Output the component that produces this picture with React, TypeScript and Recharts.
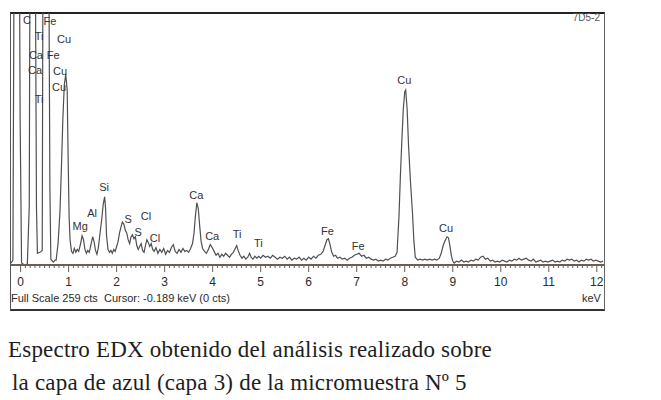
import React from "react";
import { LineChart, Line, XAxis, YAxis, ReferenceDot } from "recharts";

// spectrum: [keV, counts]; values above 259 run off the top of the frame
const spectrum: Array<[number, number]> = [
  [-0.2, 2], [-0.16, 5], [-0.13, 400], [-0.03, 400], [-0.01, 150], [0.02, 2], [0.08, 0], [0.14, 1],
  [0.18, 60], [0.2, 400], [0.3, 400], [0.33, 60], [0.35, 12], [0.4, 13], [0.45, 15], [0.47, 400],
  [0.58, 400], [0.61, 80], [0.63, 6], [0.68, 3], [0.72, 5], [0.74, 5], [0.78, 22], [0.82, 55],
  [0.85, 100], [0.88, 150], [0.91, 185], [0.94, 196], [0.97, 180], [0.99, 110], [1.01, 50], [1.03, 26],
  [1.06, 14], [1.09, 12], [1.12, 17], [1.15, 13], [1.18, 16], [1.21, 14], [1.25, 22], [1.28, 30],
  [1.31, 26], [1.34, 16], [1.37, 12], [1.4, 15], [1.43, 13], [1.47, 22], [1.5, 29], [1.53, 24],
  [1.56, 15], [1.59, 11], [1.62, 18], [1.66, 35], [1.69, 47], [1.72, 62], [1.75, 70], [1.77, 58],
  [1.79, 30], [1.82, 16], [1.85, 13], [1.88, 15], [1.91, 12], [1.94, 16], [1.97, 14], [2.0, 19],
  [2.03, 24], [2.06, 33], [2.09, 39], [2.12, 44], [2.15, 42], [2.18, 36], [2.21, 33], [2.24, 26],
  [2.27, 22], [2.3, 29], [2.33, 31], [2.36, 27], [2.39, 29], [2.42, 20], [2.45, 16], [2.48, 19],
  [2.51, 22], [2.54, 15], [2.57, 13], [2.6, 20], [2.63, 26], [2.66, 23], [2.69, 19], [2.72, 22],
  [2.75, 16], [2.78, 14], [2.82, 18], [2.86, 12], [2.9, 16], [2.94, 13], [2.98, 17], [3.02, 11],
  [3.06, 15], [3.1, 13], [3.14, 18], [3.18, 21], [3.22, 14], [3.26, 12], [3.3, 16], [3.34, 13],
  [3.38, 17], [3.42, 14], [3.46, 15], [3.5, 13], [3.54, 17], [3.58, 22], [3.61, 32], [3.64, 50],
  [3.67, 64], [3.7, 58], [3.73, 40], [3.76, 24], [3.79, 17], [3.83, 14], [3.87, 12], [3.91, 16],
  [3.95, 21], [3.99, 18], [4.03, 14], [4.07, 10], [4.11, 12], [4.15, 8], [4.19, 11], [4.23, 9],
  [4.27, 12], [4.31, 10], [4.35, 8], [4.39, 11], [4.43, 13], [4.47, 17], [4.5, 20], [4.53, 15],
  [4.57, 10], [4.61, 7], [4.65, 9], [4.69, 6], [4.73, 8], [4.77, 12], [4.8, 8], [4.84, 6],
  [4.88, 9], [4.92, 7], [4.96, 9], [5.0, 7], [5.05, 10], [5.1, 8], [5.15, 9], [5.2, 7],
  [5.25, 10], [5.3, 8], [5.35, 6], [5.4, 8], [5.45, 7], [5.5, 9], [5.55, 6], [5.6, 8],
  [5.65, 5], [5.7, 7], [5.75, 6], [5.8, 8], [5.85, 5], [5.9, 7], [5.95, 5], [6.0, 8],
  [6.05, 6], [6.1, 9], [6.15, 7], [6.2, 10], [6.25, 11], [6.3, 14], [6.34, 20], [6.38, 26],
  [6.41, 27], [6.44, 22], [6.48, 13], [6.52, 9], [6.56, 10], [6.6, 7], [6.65, 8], [6.7, 6],
  [6.75, 7], [6.8, 5], [6.85, 7], [6.9, 8], [6.95, 10], [7.0, 11], [7.05, 12], [7.1, 9],
  [7.15, 10], [7.2, 7], [7.25, 8], [7.3, 6], [7.35, 5], [7.4, 6], [7.45, 4], [7.5, 5],
  [7.55, 4], [7.6, 6], [7.65, 5], [7.7, 7], [7.75, 8], [7.8, 9], [7.84, 13], [7.88, 50],
  [7.91, 92], [7.94, 128], [7.97, 160], [8.0, 178], [8.02, 180], [8.05, 160], [8.08, 122], [8.12, 85],
  [8.16, 55], [8.19, 25], [8.22, 8], [8.27, 5], [8.32, 6], [8.37, 5], [8.42, 6], [8.47, 5],
  [8.52, 6], [8.57, 5], [8.62, 6], [8.67, 5], [8.72, 7], [8.76, 12], [8.8, 20], [8.84, 25],
  [8.88, 29], [8.91, 28], [8.94, 20], [8.97, 10], [9.0, 4], [9.03, 2], [9.08, 4], [9.13, 3],
  [9.18, 5], [9.23, 3], [9.28, 4], [9.33, 3], [9.38, 5], [9.43, 4], [9.48, 6], [9.53, 5],
  [9.58, 8], [9.63, 9], [9.68, 6], [9.73, 7], [9.78, 4], [9.83, 5], [9.88, 3], [9.93, 4],
  [9.98, 3], [10.03, 5], [10.08, 4], [10.13, 3], [10.18, 5], [10.23, 4], [10.28, 6], [10.33, 5],
  [10.38, 7], [10.43, 5], [10.48, 6], [10.53, 7], [10.58, 5], [10.63, 4], [10.68, 6], [10.73, 3],
  [10.78, 4], [10.83, 5], [10.88, 3], [10.93, 4], [10.98, 3], [11.03, 4], [11.08, 5], [11.13, 3],
  [11.18, 4], [11.23, 3], [11.28, 5], [11.33, 4], [11.38, 6], [11.43, 5], [11.48, 6], [11.53, 4],
  [11.58, 5], [11.63, 3], [11.68, 5], [11.73, 4], [11.78, 6], [11.83, 5], [11.88, 6], [11.93, 4],
  [11.98, 5], [12.03, 4], [12.08, 3], [12.13, 4],
];

// element labels and where they sit (keV, counts)
const peakNames = ["C", "Fe", "Ti", "Cu", "Ca", "Fe", "Ca", "Cu", "Cu", "Ti", "Mg", "Al", "Si", "S", "Cl", "S", "Cl", "Ca", "Ca", "Ti", "Ti", "Fe", "Fe", "Cu", "Cu"];
const peakKeV = [0.135, 0.61, 0.385, 0.905, 0.32, 0.68, 0.3, 0.82, 0.8, 0.385, 1.24, 1.49, 1.74, 2.24, 2.61, 2.45, 2.8, 3.66, 3.99, 4.51, 4.95, 6.39, 7.03, 7.99, 8.86];
const peakCounts = [252, 251, 235, 232, 216, 216, 200, 199, 183, 171, 40, 53, 80, 47, 50, 34, 28, 72, 30, 32, 23, 35, 19, 190, 38];

const majorTicks = [0, 1, 2, 3, 4, 5, 6, 7, 8, 9, 10, 11, 12];
const minorTicks = Array.from({ length: 122 }, (_, i) => i / 10).filter((v) => v % 1 !== 0);
const allTicks = [...majorTicks, ...minorTicks].sort((a, b) => a - b);

const fullScale = 259;
const data = spectrum.map(([kev, counts]) => ({ kev, counts }));

const sans = "'Liberation Sans', Arial, sans-serif";

function KevTick(props: any) {
  const { x, y, payload } = props;
  const v = payload.value as number;
  const major = majorTicks.includes(v);
  return (
    <g>
      <line x1={x} x2={x} y1={y} y2={y + (major ? 7 : 3)} stroke="#6b5f55" strokeWidth={1} />
      {major && (
        <text x={x} y={y + 21} textAnchor="middle" fontSize={12} fontFamily={sans} fill="#2a2a2a">
          {v}
        </text>
      )}
    </g>
  );
}

export default function App() {
  return (
    <div style={{ position: "absolute", left: 0, top: 0, width: 661, height: 400, background: "#fff" }}>
      <div
        style={{
          position: "absolute",
          left: 10,
          top: 12,
          width: 593,
          height: 295,
          borderTop: "2px solid #222",
          borderLeft: "1px solid #555",
          borderRight: "1px solid #666",
          borderBottom: "2px solid #333",
        }}
      />
      <div style={{ position: "absolute", left: 0, top: 0 }}>
        <LineChart width={661} height={320} data={data} margin={{ top: 13, left: 11, right: 57, bottom: 25 }}>
          <XAxis
            dataKey="kev"
            type="number"
            domain={[-0.2, 12.15]}
            allowDataOverflow
            ticks={allTicks}
            interval={0}
            tickSize={0}
            tickMargin={0}
            tickLine={false}
            tick={<KevTick />}
            axisLine={{ stroke: "#6b5f55", strokeWidth: 2 }}
            height={30}
          />
          <YAxis hide domain={[0, fullScale]} allowDataOverflow />
          <Line
            type="linear"
            dataKey="counts"
            stroke="#505050"
            strokeWidth={1.2}
            dot={false}
            isAnimationActive={false}
          />
          {peakNames.map((name, i) => (
            <ReferenceDot
              key={i}
              x={peakKeV[i]}
              y={peakCounts[i]}
              r={0}
              ifOverflow="visible"
              label={{ value: name, position: "center", fontSize: 11, fontFamily: sans, fill: "#333" }}
            />
          ))}
        </LineChart>
      </div>
      <div style={{ position: "absolute", right: 661 - 600, top: 12, fontSize: 10, fontFamily: sans, color: "#555" }}>
        7D5-2
      </div>
      <div style={{ position: "absolute", left: 11, top: 292, fontSize: 11, fontFamily: sans, color: "#2a2a2a", whiteSpace: "pre" }}>
        Full Scale {fullScale} cts  Cursor: -0.189 keV (0 cts)
      </div>
      <div style={{ position: "absolute", left: 582, top: 292, fontSize: 11, fontFamily: sans, color: "#2a2a2a" }}>keV</div>
      <div
        style={{
          position: "absolute",
          left: 8,
          top: 333,
          fontSize: 23,
          lineHeight: "33px",
          letterSpacing: 0.2,
          fontFamily: "'Liberation Serif', 'DejaVu Serif', serif",
          color: "#1e1e1e",
        }}
      >
        <div>Espectro EDX obtenido del análisis realizado sobre</div>
        <div style={{ paddingLeft: 4 }}>la capa de azul (capa 3) de la micromuestra Nº 5</div>
      </div>
    </div>
  );
}
